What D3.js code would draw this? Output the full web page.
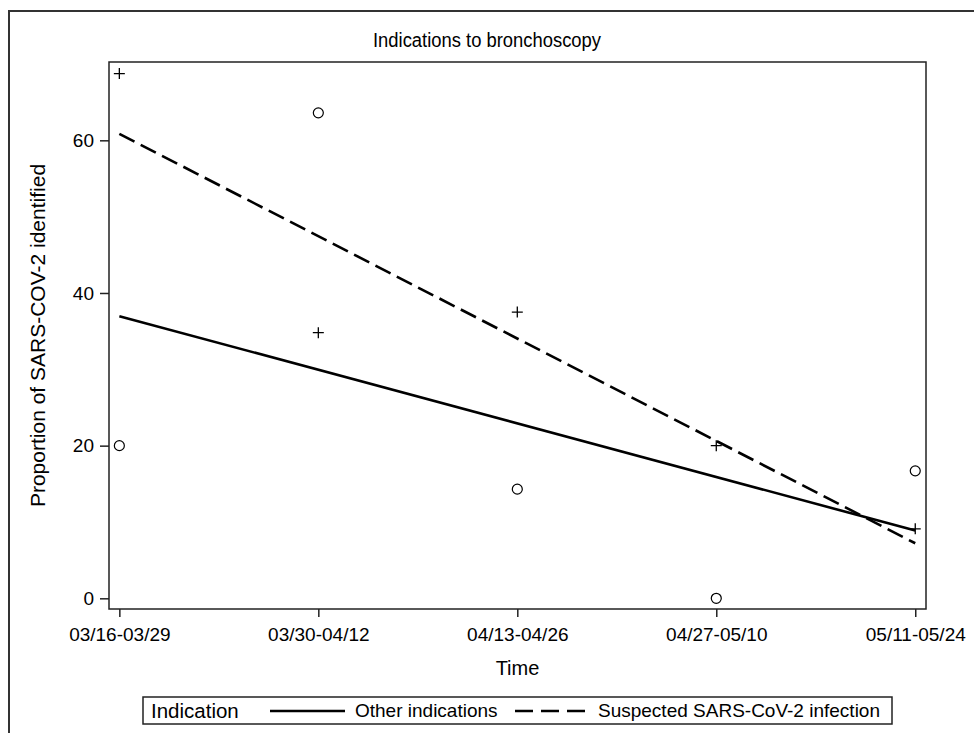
<!DOCTYPE html>
<html><head><meta charset="utf-8">
<script src="https://cdn.jsdelivr.net/npm/d3@7"></script>
<style>body{margin:0;background:#fff;font-family:"Liberation Sans",Arial,sans-serif;}</style>
</head><body><svg id="c" width="974" height="733"></svg>
<script>
const periods = ["03/16-03/29","03/30-04/12","04/13-04/26","04/27-05/10","05/11-05/24"];
const otherValues = [20, 63.6, 14.3, 0, 16.7];
const suspectedValues = [68.75, 34.8, 37.5, 20, 9.1];
const yTicks = [0, 20, 40, 60];

const svg = d3.select("#c");
const pL = 109, pR = 926, pT = 62, pB = 609;
const x = d3.scaleLinear().domain([-0.052, 4.054]).range([pL, pR]);
const y = d3.scaleLinear().domain([-1.4, 70.26]).range([pB, pT]);
const FF = "Liberation Sans, Arial, sans-serif";

// outer frame (left and top visible)
svg.append("path").attr("d","M9,733 V11 H974").attr("fill","none").attr("stroke","#333").attr("stroke-width",2);

svg.append("text").attr("x",487).attr("y",47).attr("text-anchor","middle")
  .style("font-size","20px").attr("textLength",228).attr("lengthAdjust","spacingAndGlyphs")
  .text("Indications to bronchoscopy");

svg.append("rect").attr("x",pL).attr("y",pT).attr("width",pR-pL).attr("height",pB-pT)
  .attr("fill","none").attr("stroke","#222").attr("stroke-width",1.5);

const xAxis = d3.axisBottom(x).tickValues(d3.range(periods.length)).tickFormat(i=>periods[i]).tickSize(8).tickPadding(11);
const gx = svg.append("g").attr("transform",`translate(0,${pB})`).call(xAxis);
gx.select(".domain").remove();
gx.selectAll("line").attr("stroke","#222").attr("stroke-width",1.5);
gx.selectAll("text").style("font-size","19px").style("font-family",FF).attr("fill","#000");

const yAxis = d3.axisLeft(y).tickValues(yTicks).tickSize(9).tickPadding(6);
const gy = svg.append("g").attr("transform",`translate(${pL},0)`).call(yAxis);
gy.select(".domain").remove();
gy.selectAll("line").attr("stroke","#222").attr("stroke-width",1.5);
gy.selectAll("text").style("font-size","19px").style("font-family",FF).attr("fill","#000");

svg.append("text").attr("x",(pL+pR)/2).attr("y",675).attr("text-anchor","middle")
  .style("font-size","20px").text("Time");
svg.append("text").attr("transform",`translate(45,${(pT+pB)/2}) rotate(-90)`).attr("text-anchor","middle")
  .style("font-size","21px").text("Proportion of SARS-COV-2 identified");

function fit(vals){
  const xs = vals.map((v,i)=>i);
  const mx = d3.mean(xs), my = d3.mean(vals);
  const b = d3.sum(xs.map((xi,i)=>(xi-mx)*(vals[i]-my)))/d3.sum(xs.map(xi=>(xi-mx)**2));
  const a = my - b*mx;
  return [[0,a],[vals.length-1,a+b*(vals.length-1)]];
}
const line = d3.line().x(d=>x(d[0])).y(d=>y(d[1]));
svg.append("path").attr("d",line(fit(otherValues))).attr("fill","none").attr("stroke","#000").attr("stroke-width",2.6);
svg.append("path").attr("d",line(fit(suspectedValues))).attr("fill","none").attr("stroke","#000").attr("stroke-width",2.6)
  .attr("stroke-dasharray","17,7");

svg.append("g").selectAll("circle").data(otherValues).join("circle")
  .attr("cx",(d,i)=>x(i)).attr("cy",d=>y(d)).attr("r",5).attr("fill","none").attr("stroke","#000").attr("stroke-width",1.2);
svg.append("g").selectAll("path").data(suspectedValues).join("path")
  .attr("d",(d,i)=>{const cx=x(i),cy=y(d);return `M${cx-5.5},${cy}H${cx+5.5}M${cx},${cy-5.5}V${cy+5.5}`;})
  .attr("stroke","#000").attr("stroke-width",1.3);

// legend
const lg = svg.append("g");
lg.append("rect").attr("x",143).attr("y",697).attr("width",749).attr("height",27).attr("fill","none").attr("stroke","#222").attr("stroke-width",1.5);
lg.append("text").attr("x",151).attr("y",718).style("font-size","20.5px").text("Indication");
lg.append("line").attr("x1",270).attr("x2",345).attr("y1",711).attr("y2",711).attr("stroke","#000").attr("stroke-width",2.6);
lg.append("text").attr("x",355).attr("y",717).style("font-size","19px").text("Other indications");
lg.append("line").attr("x1",515).attr("x2",588).attr("y1",711).attr("y2",711).attr("stroke","#000").attr("stroke-width",2.6).attr("stroke-dasharray","18,8");
lg.append("text").attr("x",598).attr("y",717).style("font-size","19px").text("Suspected SARS-CoV-2 infection");
</script></body></html>
